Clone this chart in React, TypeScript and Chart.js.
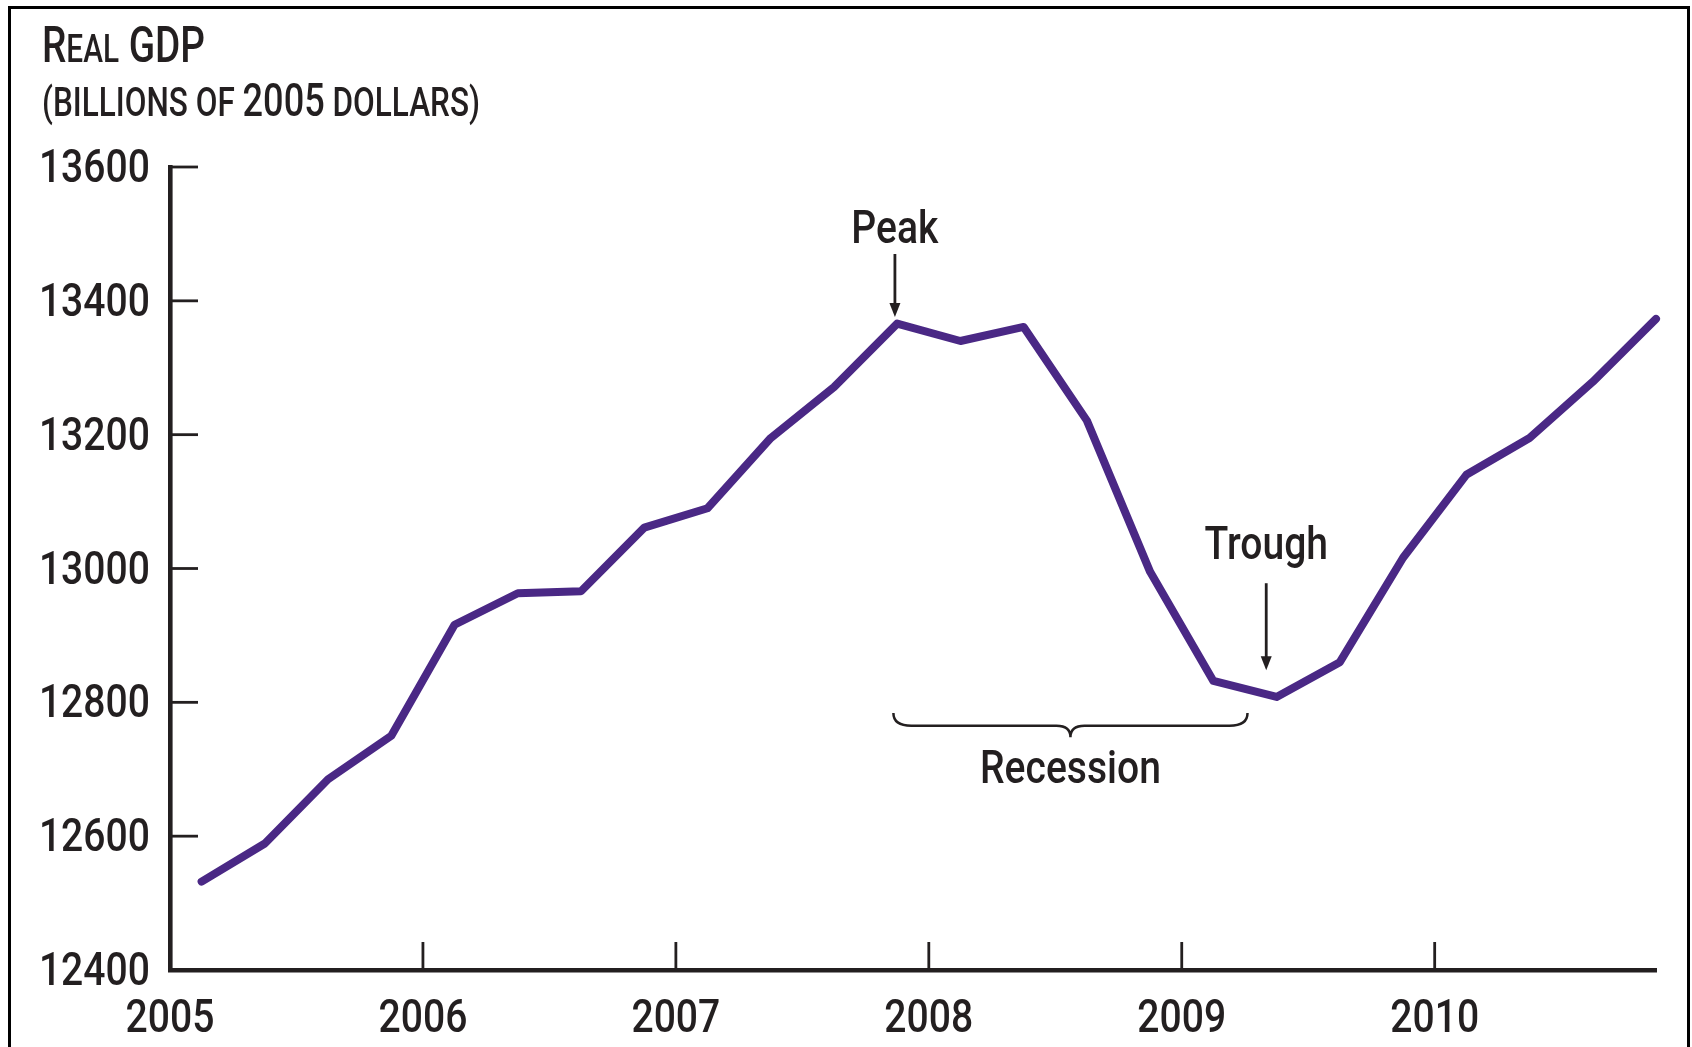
import React, { useEffect, useRef } from "react";
import { Chart, registerables } from "chart.js";

Chart.register(...registerables);

// ---- data ----
const QUARTERS = [
  "2005 Q1", "2005 Q2", "2005 Q3", "2005 Q4",
  "2006 Q1", "2006 Q2", "2006 Q3", "2006 Q4",
  "2007 Q1", "2007 Q2", "2007 Q3", "2007 Q4",
  "2008 Q1", "2008 Q2", "2008 Q3", "2008 Q4",
  "2009 Q1", "2009 Q2", "2009 Q3", "2009 Q4",
  "2010 Q1", "2010 Q2", "2010 Q3", "2010 Q4",
];
const REAL_GDP = [
  12532, 12589, 12685, 12750,
  12916, 12963, 12966, 13061,
  13090, 13195, 13271, 13366,
  13340, 13361, 13221, 12995,
  12832, 12808, 12860, 13016,
  13140, 13195, 13279, 13373,
];
const YEAR_TICKS = [2005, 2006, 2007, 2008, 2009, 2010];
const GDP_TICKS = [12400, 12600, 12800, 13000, 13200, 13400, 13600];
const X_MIN = 2005;
const X_MAX = 2010.875;
const Y_MIN = 12400;
const Y_MAX = 13600;

const TITLE_LINE1: [string, number][] = [["R", 50], ["EAL", 38.5], [" GDP", 50]];
const TITLE_LINE2: [string, number][] = [["(BILLIONS OF ", 41], ["2005", 47], [" DOLLARS)", 41]];

// annotations in data units
const PEAK = { label: "Peak", x: 2007.866, textY: 13486, arrowTop: 13470, arrowBottom: 13376 };
const TROUGH = { label: "Trough", x: 2009.334, textY: 13014, arrowTop: 12978, arrowBottom: 12848 };
const RECESSION = { label: "Recession", x1: 2007.86, x2: 2009.26, endY: 12784, lineY: 12765, tipY: 12748, textY: 12679 };

const FONT = "Roboto, 'Liberation Sans', sans-serif";
const WEIGHT = 500;
const SX = 0.85;
const LABEL_SIZE = 46;
const INK = "#231f20";
const LINE = "#4a2885";

function quarterToYear(q: string): number {
  const [y, qq] = q.split(" Q");
  return Number(y) + (Number(qq) - 0.5) / 4;
}

function condensedText(ctx: any, text: string, x: number, y: number, size: number, align: "left" | "center" | "right") {
  ctx.save();
  ctx.font = `${WEIGHT} ${size}px ${FONT}`;
  ctx.textBaseline = "alphabetic";
  ctx.textAlign = "left";
  const w = ctx.measureText(text).width * SX;
  let x0 = x;
  if (align === "center") x0 = x - w / 2;
  if (align === "right") x0 = x - w;
  ctx.translate(x0, y);
  ctx.scale(SX, 1);
  ctx.fillText(text, 0, 0);
  ctx.restore();
}

function drawParts(ctx: any, parts: [string, number][], x: number, y: number, targetW: number) {
  let total = 0;
  parts.forEach(([t, s]) => {
    ctx.font = `${WEIGHT} ${s}px ${FONT}`;
    total += ctx.measureText(t).width;
  });
  const sx = targetW / total;
  ctx.save();
  ctx.translate(x, y);
  ctx.scale(sx, 1);
  ctx.textAlign = "left";
  ctx.textBaseline = "alphabetic";
  let cx = 0;
  parts.forEach(([t, s]) => {
    ctx.font = `${WEIGHT} ${s}px ${FONT}`;
    ctx.fillText(t, cx, 0);
    cx += ctx.measureText(t).width;
  });
  ctx.restore();
}

const annotate = {
  id: "annotate",
  beforeDraw(chart: any) {
    const ctx = chart.ctx;
    ctx.save();
    ctx.fillStyle = "#ffffff";
    ctx.fillRect(0, 0, chart.width, chart.height);
    ctx.strokeStyle = "#000";
    ctx.lineWidth = 3;
    ctx.strokeRect(9.5, 7.5, 1679, 1200);
    ctx.restore();
  },
  beforeDatasetsDraw(chart: any) {
    const ctx = chart.ctx;
    const xs = chart.scales.x;
    const ys = chart.scales.y;
    const area = chart.chartArea;
    ctx.save();
    ctx.strokeStyle = INK;
    ctx.lineWidth = 2.8;
    const tl = 28;
    xs.ticks.forEach((t: any) => {
      const px = xs.getPixelForValue(t.value);
      if (t.value !== X_MIN) {
        ctx.beginPath();
        ctx.moveTo(px, area.bottom);
        ctx.lineTo(px, area.bottom - tl);
        ctx.stroke();
      }
    });
    ys.ticks.forEach((t: any) => {
      const py = ys.getPixelForValue(t.value);
      if (t.value !== Y_MIN) {
        ctx.beginPath();
        ctx.moveTo(area.left, py);
        ctx.lineTo(area.left + tl, py);
        ctx.stroke();
      }
    });
    // tick labels (condensed type)
    ctx.fillStyle = INK;
    xs.ticks.forEach((t: any) => {
      condensedText(ctx, String(t.value), xs.getPixelForValue(t.value), 1032, LABEL_SIZE, "center");
    });
    ys.ticks.forEach((t: any) => {
      condensedText(ctx, String(t.value), 150, ys.getPixelForValue(t.value) + 15, LABEL_SIZE, "right");
    });
    ctx.restore();
  },
  afterDraw(chart: any) {
    const ctx = chart.ctx;
    const xs = chart.scales.x;
    const ys = chart.scales.y;
    ctx.save();
    ctx.fillStyle = INK;
    ctx.strokeStyle = INK;

    drawParts(ctx, TITLE_LINE1, 42, 62, 163);
    drawParts(ctx, TITLE_LINE2, 42, 116, 438);

    condensedText(ctx, PEAK.label, xs.getPixelForValue(PEAK.x), ys.getPixelForValue(PEAK.textY), LABEL_SIZE, "center");
    condensedText(ctx, TROUGH.label, xs.getPixelForValue(TROUGH.x), ys.getPixelForValue(TROUGH.textY), LABEL_SIZE, "center");
    condensedText(ctx, RECESSION.label, xs.getPixelForValue((RECESSION.x1 + RECESSION.x2) / 2), ys.getPixelForValue(RECESSION.textY), LABEL_SIZE, "center");

    const arrow = (a: any) => {
      const px = xs.getPixelForValue(a.x);
      const y0 = ys.getPixelForValue(a.arrowTop);
      const y1 = ys.getPixelForValue(a.arrowBottom);
      ctx.lineWidth = 2.8;
      ctx.beginPath();
      ctx.moveTo(px, y0);
      ctx.lineTo(px, y1 - 10);
      ctx.stroke();
      ctx.beginPath();
      ctx.moveTo(px - 5.5, y1 - 14);
      ctx.lineTo(px + 5.5, y1 - 14);
      ctx.lineTo(px, y1);
      ctx.closePath();
      ctx.fill();
    };
    arrow(PEAK);
    arrow(TROUGH);

    const bx1 = xs.getPixelForValue(RECESSION.x1);
    const bx2 = xs.getPixelForValue(RECESSION.x2);
    const bm = (bx1 + bx2) / 2;
    const yE = ys.getPixelForValue(RECESSION.endY);
    const yL = ys.getPixelForValue(RECESSION.lineY);
    const yT = ys.getPixelForValue(RECESSION.tipY);
    ctx.lineWidth = 2.5;
    ctx.beginPath();
    ctx.moveTo(bx1, yE);
    ctx.quadraticCurveTo(bx1, yL, bx1 + 18, yL);
    ctx.lineTo(bm - 14, yL);
    ctx.quadraticCurveTo(bm, yL, bm, yT);
    ctx.quadraticCurveTo(bm, yL, bm + 14, yL);
    ctx.lineTo(bx2 - 18, yL);
    ctx.quadraticCurveTo(bx2, yL, bx2, yE);
    ctx.stroke();
    ctx.restore();
  },
};

export default function App() {
  const ref = useRef<HTMLCanvasElement | null>(null);
  useEffect(() => {
    if (!ref.current) return;
    const points = QUARTERS.map((q, i) => ({ x: quarterToYear(q), y: REAL_GDP[i] }));
    const chart = new Chart(ref.current, {
      type: "line",
      data: {
        datasets: [
          {
            data: points,
            borderColor: LINE,
            borderWidth: 8,
            pointRadius: 0,
            borderCapStyle: "round",
            borderJoinStyle: "round",
            tension: 0,
            clip: false as any,
          },
        ],
      },
      options: {
        animation: false,
        responsive: true,
        maintainAspectRatio: false,
        layout: { padding: { left: 0, right: 36, top: 167, bottom: 0 } },
        plugins: { legend: { display: false }, tooltip: { enabled: false }, title: { display: false } },
        scales: {
          x: {
            type: "linear",
            min: X_MIN,
            max: X_MAX,
            afterBuildTicks: (s: any) => {
              s.ticks = YEAR_TICKS.map((v) => ({ value: v }));
            },
            afterFit: (s: any) => {
              s.height = 77;
            },
            grid: { display: false, drawTicks: false },
            border: { display: true, color: INK, width: 4.6 },
            ticks: { display: false },
          },
          y: {
            type: "linear",
            min: Y_MIN,
            max: Y_MAX,
            afterBuildTicks: (s: any) => {
              s.ticks = GDP_TICKS.map((v) => ({ value: v }));
            },
            afterFit: (s: any) => {
              s.width = 170;
            },
            grid: { display: false, drawTicks: false },
            border: { display: true, color: INK, width: 4.6 },
            ticks: { display: false },
          },
        },
      },
      plugins: [annotate],
    });
    return () => chart.destroy();
  }, []);
  return (
    <div style={{ position: "fixed", left: 0, top: 0, width: 1692, height: 1047 }}>
      <canvas ref={ref} />
    </div>
  );
}
